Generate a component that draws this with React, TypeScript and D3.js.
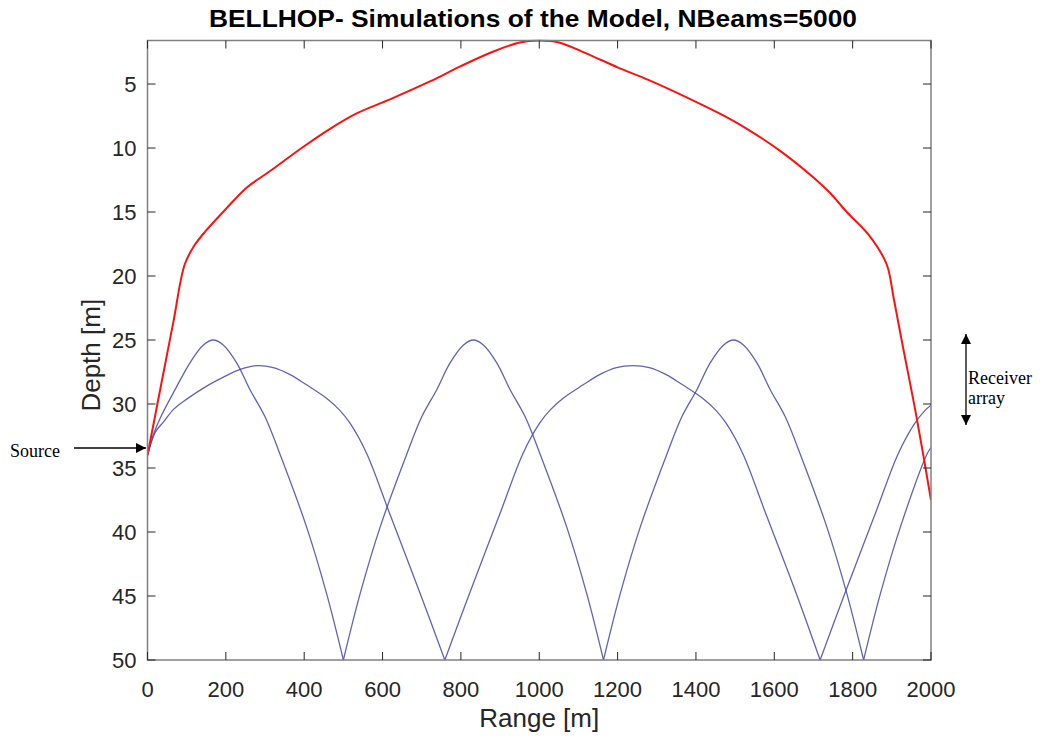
import React from 'react';
import * as d3 from 'd3';

const titleText = 'BELLHOP- Simulations of the Model, NBeams=5000';
const xLabel = 'Range [m]';
const yLabel = 'Depth [m]';
const rangeTicks = [0, 200, 400, 600, 800, 1000, 1200, 1400, 1600, 1800, 2000];
const depthTicks = [5, 10, 15, 20, 25, 30, 35, 40, 45, 50];
const rangeDomain = [0, 2000];
const depthDomain = [1.6, 50];
const bottomDepth = 50;

// [range m, depth m]
const redRay: [number, number][] = [
  [0, 34], [36, 28.3], [66, 23.6], [95, 19.1], [120, 17.6], [151, 16.4], [202, 14.7], [253, 13.1],
  [313, 11.8], [398, 9.9], [466, 8.5], [534, 7.3], [619, 6.2], [721, 4.8], [800, 3.6], [880, 2.5],
  [950, 1.75], [1000, 1.6], [1050, 1.75], [1120, 2.6], [1200, 3.7], [1280, 4.7], [1380, 6.1],
  [1460, 7.3], [1530, 8.5], [1614, 10.2], [1700, 12.3], [1742, 13.5], [1785, 15.0], [1844, 16.9],
  [1887, 19.1], [1904, 21.6], [1925, 25.0], [1963, 31.0], [2000, 37.5],
];

const blueRayA: [number, number][] = [
  [0, 34.0], [15, 32.4], [34, 31.0], [70, 28.9], [108, 26.8], [142, 25.4], [168, 25.0], [194, 25.4],
  [228, 26.8], [262, 28.9], [300, 31.0], [338, 33.9], [406, 39.6], [457, 44.8], [500, 50],
  [543, 44.8], [594, 39.6], [662, 33.9], [700, 31.0], [738, 28.9], [772, 26.8], [806, 25.4],
  [832, 25.0], [858, 25.4], [892, 26.8], [926, 28.9], [964, 31.0], [1002, 33.9], [1070, 39.6],
  [1121, 44.8], [1164, 50], [1207, 44.8], [1258, 39.6], [1326, 33.9], [1364, 31.0], [1402, 28.9],
  [1436, 26.8], [1470, 25.4], [1496, 25.0], [1522, 25.4], [1556, 26.8], [1590, 28.9], [1628, 31.0],
  [1666, 33.9], [1734, 39.6], [1785, 44.8], [1828, 50], [1871, 44.8], [1922, 39.6], [1990, 33.9],
  [2000, 33.4],
];

const blueRayB: [number, number][] = [
  [0, 34.0], [20, 32.2], [41, 31.4], [67, 30.4], [101, 29.6], [151, 28.6], [194, 27.9], [237, 27.3],
  [279, 27.0], [321, 27.15], [364, 27.7], [406, 28.5], [457, 29.55], [491, 30.5], [517, 31.5],
  [560, 33.9], [615, 38.3], [696, 44.8], [759, 50], [822, 44.8], [903, 38.3], [958, 33.9],
  [1001, 31.5], [1027, 30.5], [1061, 29.55], [1112, 28.5], [1154, 27.7], [1197, 27.15], [1239, 27.0],
  [1281, 27.15], [1324, 27.7], [1366, 28.5], [1417, 29.55], [1451, 30.5], [1477, 31.5], [1520, 33.9],
  [1575, 38.3], [1656, 44.8], [1717, 50], [1780, 44.8], [1861, 38.3], [1916, 33.9], [1959, 31.5],
  [1985, 30.5], [2000, 30.1],
];

const W = 1040;
const H = 742;
const PL = 147.5, PR = 931, PT = 40.5, PB = 660;

function splitAtBottom(data: [number, number][]) {
  const segs: [number, number][][] = [];
  let cur: [number, number][] = [];
  data.forEach((p, i) => {
    cur.push(p);
    if (p[1] >= bottomDepth && i > 0 && i < data.length - 1) {
      segs.push(cur);
      cur = [p];
    }
  });
  if (cur.length > 1) segs.push(cur);
  return segs;
}

export default function App() {
  const x = d3.scaleLinear().domain(rangeDomain).range([PL, PR]);
  const y = d3.scaleLinear().domain(depthDomain).range([PT, PB]);
  const line = d3
    .line<[number, number]>()
    .x((d) => x(d[0]))
    .y((d) => y(d[1]))
    .curve(d3.curveCatmullRom.alpha(0.5));

  const tickColor = '#262626';
  const frameColor = '#808080';
  const tickLen = 8;
  const sans = 'Arial, "Liberation Sans", Helvetica, sans-serif';
  const serif = '"Times New Roman", "Liberation Serif", serif';

  return (
    <div style={{ position: 'absolute', left: 0, top: 0 }}>
      <svg width={W} height={H} viewBox={`0 0 ${W} ${H}`} style={{ display: 'block', background: '#fff' }}>
        <defs>
          <clipPath id="plotClip">
            <rect x={PL} y={PT - 1} width={PR - PL} height={PB - PT + 2} />
          </clipPath>
          <marker id="arrowHead" viewBox="0 0 10 10" refX="10" refY="5" markerWidth="10" markerHeight="10" markerUnits="userSpaceOnUse" orient="auto-start-reverse">
            <path d="M0,0 L10,5 L0,10 z" fill="#000" />
          </marker>
        </defs>

        <text x={533} y={27} textAnchor="middle" fontFamily={sans} fontWeight="bold" fontSize={24} fill="#000" textLength={648} lengthAdjust="spacingAndGlyphs">
          {titleText}
        </text>

        <g clipPath="url(#plotClip)">
          {splitAtBottom(blueRayA).map((seg, i) => (
            <path key={'a' + i} d={line(seg) || ''} fill="none" stroke="#4646a8" strokeOpacity={0.85} strokeWidth={1.3} />
          ))}
          {splitAtBottom(blueRayB).map((seg, i) => (
            <path key={'b' + i} d={line(seg) || ''} fill="none" stroke="#4646a8" strokeOpacity={0.85} strokeWidth={1.3} />
          ))}
          <path d={line(redRay) || ''} fill="none" stroke="#ff1010" strokeWidth={2} />
        </g>

        {/* frame */}
        <rect x={PL} y={PT} width={PR - PL} height={PB - PT} fill="none" stroke={frameColor} strokeWidth={1.5} />

        {/* x ticks */}
        {rangeTicks.map((t) => (
          <g key={'xt' + t}>
            <line x1={x(t)} x2={x(t)} y1={PB} y2={PB - tickLen} stroke={tickColor} strokeWidth={1} />
            <line x1={x(t)} x2={x(t)} y1={PT} y2={PT + tickLen} stroke={tickColor} strokeWidth={1} />
            <text x={x(t)} y={PB + 37} textAnchor="middle" fontFamily={sans} fontSize={22} fill={tickColor}>
              {t}
            </text>
          </g>
        ))}

        {/* y ticks */}
        {depthTicks.map((t) => (
          <g key={'yt' + t}>
            <line x1={PL} x2={PL + tickLen} y1={y(t)} y2={y(t)} stroke={tickColor} strokeWidth={1} />
            <line x1={PR} x2={PR - tickLen} y1={y(t)} y2={y(t)} stroke={tickColor} strokeWidth={1} />
            <text x={PL - 11} y={y(t)} dy="0.35em" textAnchor="end" fontFamily={sans} fontSize={22} fill={tickColor}>
              {t}
            </text>
          </g>
        ))}

        <text x={(PL + PR) / 2} y={727} textAnchor="middle" fontFamily={sans} fontSize={26} fill={tickColor}>
          {xLabel}
        </text>
        <text transform={`translate(100, ${(PT + PB) / 2 + 5}) rotate(-90)`} textAnchor="middle" fontFamily={sans} fontSize={26} fill={tickColor}>
          {yLabel}
        </text>

        {/* Source annotation */}
        <text x={10} y={457} fontFamily={serif} fontSize={18} fill="#000">Source</text>
        <line x1={74} y1={448} x2={146} y2={448} stroke="#000" strokeWidth={1.3} markerEnd="url(#arrowHead)" />

        {/* Receiver array annotation */}
        <line x1={966} y1={334} x2={966} y2={425} stroke="#000" strokeWidth={1.3} markerStart="url(#arrowHead)" markerEnd="url(#arrowHead)" />
        <text x={968} y={384} fontFamily={serif} fontSize={18} fill="#000">Receiver</text>
        <text x={968} y={404} fontFamily={serif} fontSize={18} fill="#000">array</text>
      </svg>
    </div>
  );
}
